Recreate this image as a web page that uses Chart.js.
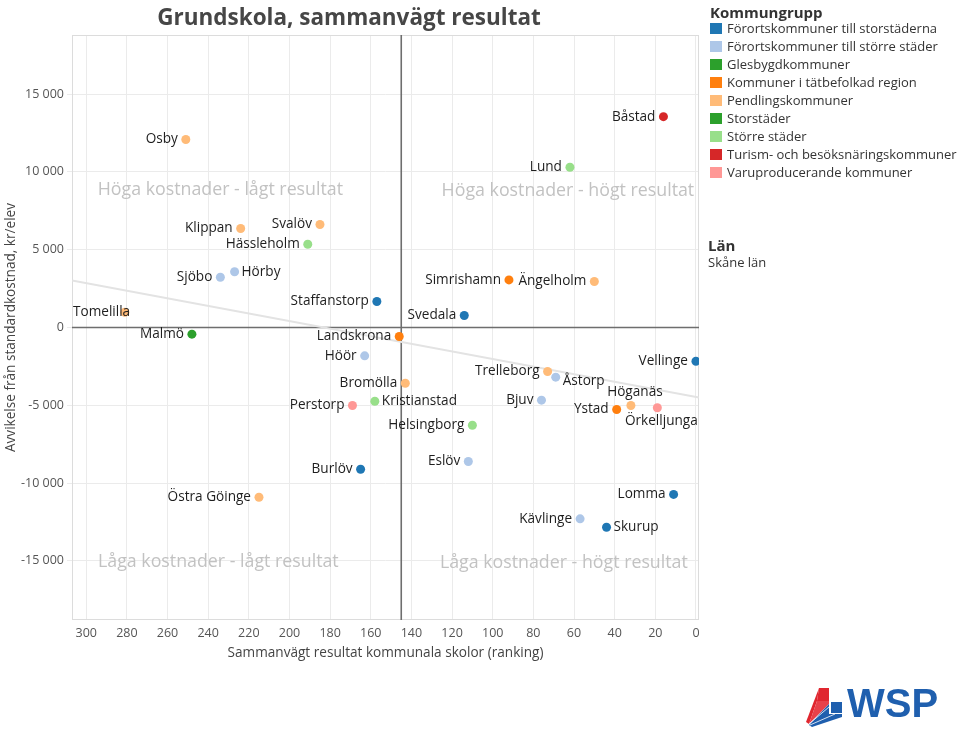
<!DOCTYPE html>
<html>
<head>
<meta charset="utf-8">
<script src="https://cdn.jsdelivr.net/npm/chart.js@4.4.1/dist/chart.umd.min.js"></script>
<style>
body { margin: 0; background: #fff; font-family: "Open Sans", sans-serif; }
#wrap { position: relative; width: 960px; height: 734px; overflow: hidden; }
#chart { position: absolute; left: 0; top: 0; }
#title { position: absolute; left: 0; top: 1px; width: 698px; text-align: center; font-size: 22.5px; font-weight: bold; color: #464646; line-height: 32px; }
#legend { position: absolute; left: 710px; top: 0; color: #333; font-size: 13px; }
#legend .head { position: absolute; left: 0; font-weight: bold; font-size: 15px; white-space: nowrap; line-height: 20px; }
#legend .item { position: absolute; left: 0; height: 18px; line-height: 18px; white-space: nowrap; }
#legend .sw { display: inline-block; width: 12px; height: 11px; margin-right: 5px; vertical-align: -1px; }
#logo { position: absolute; left: 795px; top: 680px; }
</style>
</head>
<body>
<div id="wrap">
  <canvas id="chart" width="960" height="734"></canvas>
  <div id="title">Grundskola, sammanvägt resultat</div>
  <div id="legend"></div>
  <svg id="logo" width="160" height="54" viewBox="0 0 160 54">
    <polygon points="24,8 34,8 34,21 22,21" fill="#e0262f"/>
    <polygon points="24,8 22,21 14,44 11,42" fill="#e0262f"/>
    <polygon points="22,21 34,21 34,24 14,44" fill="#e8414a"/>
    <polygon points="36,22 47,22 47,33 36,33" fill="#1f5fae"/>
    <polygon points="34,24 34,34 47,34 47,37 17,47 14,45" fill="#1f5fae"/>
    <line x1="14" y1="44" x2="34" y2="27" stroke="#fff" stroke-width="0.8"/>
    <line x1="15" y1="45" x2="40" y2="34" stroke="#fff" stroke-width="0.8"/>
    <text x="52" y="37" font-family="Liberation Sans, Arial, sans-serif" font-weight="bold" font-size="40" fill="#1f5fae">WSP</text>
  </svg>
</div>
<script>
// Skånes kommuner: ranking (x) mot avvikelse från standardkostnad (y)
const kommuner = ['Båstad', 'Osby', 'Lund', 'Svalöv', 'Klippan', 'Hässleholm', 'Hörby', 'Sjöbo',
  'Staffanstorp', 'Tomelilla', 'Malmö', 'Landskrona', 'Höör', 'Simrishamn', 'Ängelholm', 'Svedala',
  'Vellinge', 'Trelleborg', 'Åstorp', 'Bromölla', 'Kristianstad', 'Perstorp', 'Helsingborg', 'Bjuv',
  'Ystad', 'Höganäs', 'Örkelljunga', 'Eslöv', 'Burlöv', 'Östra Göinge', 'Lomma', 'Kävlinge', 'Skurup'];
const ranking = [16, 251, 62, 185, 224, 191, 227, 234,
  157, 281, 248, 146, 163, 92, 50, 114,
  0, 73, 69, 143, 158, 169, 110, 76,
  39, 32, 19, 112, 165, 215, 11, 57, 44];
const avvikelse = [13550, 12080, 10300, 6620, 6360, 5350, 3580, 3230,
  1670, 980, -430, -580, -1820, 3060, 2960, 770,
  -2170, -2830, -3190, -3580, -4740, -5010, -6280, -4670,
  -5270, -5010, -5160, -8610, -9110, -10910, -10730, -12300, -12840];
const grupp = [7, 4, 6, 4, 4, 6, 1, 1,
  0, 4, 5, 3, 1, 3, 4, 0,
  0, 4, 1, 4, 6, 8, 6, 1,
  3, 4, 8, 1, 0, 4, 0, 1, 0];

const grupper = ['Förortskommuner till storstäderna', 'Förortskommuner till större städer', 'Glesbygdkommuner',
  'Kommuner i tätbefolkad region', 'Pendlingskommuner', 'Storstäder', 'Större städer',
  'Turism- och besöksnäringskommuner', 'Varuproducerande kommuner'];

// trendlinje, värden avlästa vid axlarnas ändar
const trendX = [307, -1.5];
const trendY = [3020, -4500];

// referenslinjer (median ranking, noll avvikelse)
const refX = 145;
const refY = 0;

const xTicks = [0, 20, 40, 60, 80, 100, 120, 140, 160, 180, 200, 220, 240, 260, 280, 300];
const yTicks = [-15000, -10000, -5000, 0, 5000, 10000, 15000];

const kvadrantText = ['Höga kostnader - lågt resultat', 'Höga kostnader - högt resultat',
  'Låga kostnader - lågt resultat', 'Låga kostnader - högt resultat'];
const kvadrantX = [234, 63, 235, 65];
const kvadrantY = [8870, 8800, -15090, -15120];

// --- utseende ---
const farger = ['#1f77b4', '#aec7e8', '#2ca02c', '#ff7f0e', '#ffbb78', '#2ca02c', '#98df8a', '#d62728', '#ff9896'];
const etikettLage = {
  'Hörby': 'right', 'Kristianstad': 'right', 'Åstorp': 'rightdown', 'Skurup': 'right',
  'Höganäs': 'above', 'Örkelljunga': 'below'
};
const FONT = '"Open Sans", sans-serif';

// legend
const legend = document.getElementById('legend');
let html = '<div class="head" style="top:2px">Kommungrupp</div>';
grupper.forEach((g, i) => {
  html += '<div class="item" style="top:' + (19 + i * 18) + 'px"><span class="sw" style="background:' + farger[i] + '"></span>' + g + '</div>';
});
html += '<div class="head" style="top:235px;left:-2px">Län</div>';
html += '<div class="item" style="top:253px;left:-2px">Skåne län</div>';
legend.innerHTML = html;

const datasets = grupper.map((g, gi) => ({
  type: 'scatter',
  label: g,
  data: kommuner.map((k, i) => ({ x: ranking[i], y: avvikelse[i], namn: k, g: grupp[i] })).filter(p => p.g === gi),
  backgroundColor: farger[gi],
  borderWidth: 0,
  pointRadius: 4.5,
  pointHoverRadius: 4.5,
  order: 1
}));
datasets.push({
  type: 'line',
  label: 'Trend',
  data: trendX.map((x, i) => ({ x: x, y: trendY[i] })),
  borderColor: '#e3e3e3',
  borderWidth: 2,
  pointRadius: 0,
  order: 5
});

const fmt = v => (v < 0 ? '-' : '') + String(Math.abs(v)).replace(/\B(?=(\d{3})+(?!\d))/g, ' ');

const bakgrund = {
  id: 'bakgrund',
  beforeDatasetsDraw(chart) {
    const { ctx, chartArea: a, scales: { x, y } } = chart;
    ctx.save();
    ctx.strokeStyle = '#dcdcdc';
    ctx.lineWidth = 1;
    ctx.strokeRect(a.left + 0.5, a.top + 0.5, a.right - a.left - 1, a.bottom - a.top - 1);
    ctx.font = '17.8px ' + FONT;
    ctx.fillStyle = '#c2c2c2';
    ctx.textAlign = 'center';
    ctx.textBaseline = 'middle';
    kvadrantText.forEach((t, i) => ctx.fillText(t, x.getPixelForValue(kvadrantX[i]), y.getPixelForValue(kvadrantY[i])));
    ctx.strokeStyle = '#6e6e6e';
    ctx.lineWidth = 1.6;
    const px = x.getPixelForValue(refX), py = y.getPixelForValue(refY);
    ctx.beginPath();
    ctx.moveTo(px, a.top); ctx.lineTo(px, a.bottom);
    ctx.moveTo(a.left, py); ctx.lineTo(a.right, py);
    ctx.stroke();
    ctx.restore();
  }
};

const etiketter = {
  id: 'etiketter',
  afterDatasetsDraw(chart) {
    const { ctx, chartArea: a } = chart;
    ctx.save();
    ctx.font = '13.6px ' + FONT;
    ctx.fillStyle = '#1e1e1e';
    ctx.textBaseline = 'middle';
    chart.data.datasets.forEach((ds, di) => {
      if (ds.type !== 'scatter') return;
      chart.getDatasetMeta(di).data.forEach((pt, i) => {
        const namn = ds.data[i].namn;
        const lage = etikettLage[namn] || 'left';
        const w = ctx.measureText(namn).width;
        let tx = pt.x, ty = pt.y;
        if (lage === 'left') {
          ctx.textAlign = 'right';
          tx = Math.max(pt.x - 8, a.left + 1 + w);
        } else if (lage === 'right' || lage === 'rightdown') {
          ctx.textAlign = 'left';
          tx = pt.x + 7;
          if (lage === 'rightdown') ty += 4;
        } else {
          ctx.textAlign = 'center';
          tx = pt.x + 4;
          ty += lage === 'above' ? -13 : 13;
        }
        ctx.fillText(namn, tx, ty);
      });
    });
    ctx.restore();
  }
};

new Chart(document.getElementById('chart'), {
  data: { datasets },
  options: {
    responsive: false,
    animation: false,
    layout: { padding: { top: 35, right: 261, left: 0, bottom: 0 } },
    plugins: { legend: { display: false }, tooltip: { enabled: false } },
    scales: {
      x: {
        type: 'linear',
        reverse: true,
        min: -1.5,
        max: 307,
        afterFit: s => { s.height = 114; },
        afterBuildTicks: s => { s.ticks = xTicks.map(v => ({ value: v })); },
        grid: { color: '#ebebeb', drawTicks: false },
        border: { display: false },
        ticks: { padding: 6, color: '#555', font: { family: FONT, size: 12.5 }, callback: v => String(v) },
        title: {
          display: true,
          text: 'Sammanvägt resultat kommunala skolor (ranking)',
          color: '#444',
          font: { family: FONT, size: 13.6 },
          padding: { top: 4, bottom: 73 }
        }
      },
      y: {
        type: 'linear',
        min: -18800,
        max: 18800,
        afterFit: s => { s.width = 72; },
        afterBuildTicks: s => { s.ticks = yTicks.map(v => ({ value: v })); },
        grid: { color: '#ebebeb', tickLength: 5 },
        border: { display: false },
        ticks: { padding: 3, color: '#555', font: { family: FONT, size: 12.5 }, callback: v => fmt(v) },
        title: {
          display: true,
          text: 'Avvikelse från standardkostnad, kr/elev',
          color: '#444',
          font: { family: FONT, size: 13.6 },
          padding: { top: 3, bottom: 4 }
        }
      }
    }
  },
  plugins: [bakgrund, etiketter]
});
</script>
</body>
</html>
